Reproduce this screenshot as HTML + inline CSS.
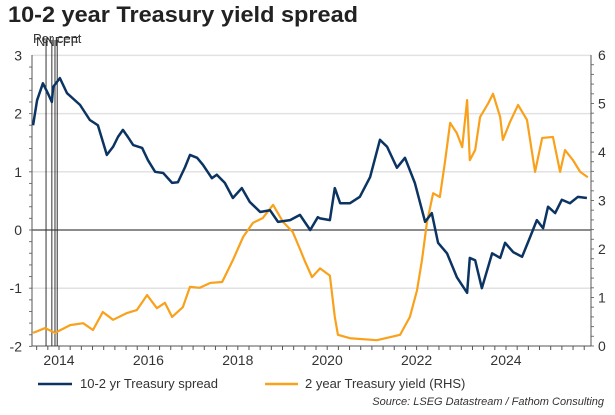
<!DOCTYPE html>
<html><head><meta charset="utf-8"><style>
body{margin:0;background:#fff;width:615px;height:410px;overflow:hidden;font-family:"Liberation Sans",sans-serif}
</style></head><body>
<svg width="615" height="410" xmlns="http://www.w3.org/2000/svg" font-family="Liberation Sans, sans-serif">
<text x="8" y="22" font-size="22" font-weight="bold" fill="#222" textLength="350" lengthAdjust="spacingAndGlyphs">10-2 year Treasury yield spread</text>
<g id="grid"></g><g id="axes"></g><g id="series"></g>
<text x="80" y="388" font-size="13" fill="#333">10-2 yr Treasury spread</text>
<line x1="38" y1="384" x2="72" y2="384" stroke="#0b3462" stroke-width="2.5"/>
<line x1="265" y1="384" x2="298" y2="384" stroke="#f9a11b" stroke-width="2.5"/>
<text x="305" y="388" font-size="13" fill="#333">2 year Treasury yield (RHS)</text>
<text x="604" y="405" font-size="11" font-style="italic" fill="#333" text-anchor="end">Source: LSEG Datastream / Fathom Consulting</text>
</svg>
<script>
const spreadDates=[2013.42,2013.51,2013.64,2013.75,2013.84,2013.87,2014.02,2014.18,2014.47,2014.69,2014.87,2015.07,2015.21,2015.32,2015.43,2015.54,2015.66,2015.86,2015.99,2016.15,2016.33,2016.53,2016.66,2016.82,2016.93,2017.09,2017.22,2017.42,2017.53,2017.71,2017.89,2018.09,2018.27,2018.50,2018.72,2018.90,2019.17,2019.39,2019.62,2019.79,2019.84,2020.06,2020.17,2020.29,2020.51,2020.73,2020.96,2021.18,2021.34,2021.56,2021.74,2021.96,2022.19,2022.34,2022.48,2022.68,2022.90,2023.13,2023.19,2023.31,2023.46,2023.69,2023.87,2023.98,2024.16,2024.36,2024.54,2024.69,2024.83,2024.94,2025.10,2025.25,2025.43,2025.61,2025.81];
const spreadValues=[1.80,2.23,2.52,2.35,2.20,2.46,2.61,2.35,2.15,1.89,1.80,1.29,1.43,1.60,1.72,1.60,1.46,1.41,1.20,1.00,0.98,0.81,0.82,1.08,1.29,1.24,1.12,0.89,0.95,0.81,0.55,0.72,0.48,0.31,0.34,0.14,0.17,0.26,0.00,0.22,0.20,0.17,0.72,0.46,0.46,0.57,0.91,1.55,1.43,1.07,1.24,0.81,0.14,0.29,-0.22,-0.40,-0.81,-1.08,-0.48,-0.52,-1.00,-0.40,-0.48,-0.22,-0.38,-0.46,-0.12,0.17,0.03,0.40,0.29,0.52,0.46,0.57,0.55];
const yieldDates=[2013.42,2013.69,2013.91,2014.25,2014.54,2014.76,2014.98,2015.21,2015.52,2015.74,2015.97,2016.19,2016.37,2016.53,2016.77,2016.93,2017.15,2017.38,2017.65,2017.89,2018.12,2018.34,2018.56,2018.79,2019.01,2019.23,2019.39,2019.50,2019.66,2019.84,2020.06,2020.17,2020.24,2020.51,2021.11,2021.63,2021.85,2022.01,2022.12,2022.23,2022.37,2022.52,2022.64,2022.75,2022.90,2023.02,2023.13,2023.19,2023.31,2023.42,2023.60,2023.71,2023.87,2023.93,2024.09,2024.27,2024.47,2024.65,2024.81,2025.05,2025.21,2025.32,2025.50,2025.66,2025.83];
const yieldValues=[0.27,0.37,0.27,0.43,0.47,0.33,0.70,0.54,0.68,0.74,1.05,0.78,0.89,0.60,0.80,1.22,1.20,1.30,1.32,1.77,2.25,2.54,2.64,2.91,2.56,2.35,2.00,1.75,1.42,1.60,1.45,0.60,0.23,0.16,0.12,0.23,0.60,1.15,1.77,2.54,3.15,3.07,3.83,4.60,4.39,4.10,5.07,3.83,4.04,4.72,5.00,5.20,4.72,4.25,4.62,4.97,4.66,3.59,4.29,4.31,3.59,4.04,3.83,3.59,3.48];
const leftTicks=[3,2,1,0,-1,-2];
const rightTicks=[6,5,4,3,2,1,0];
const yearTicks=[2014,2016,2018,2020,2022,2024];
const eventLines=[2013.71,2013.84,2013.91,2013.96];
const NS="http://www.w3.org/2000/svg";
const X0=32,X1=591;
const xS=d=>59+(d-2014)*44.7;
const yL=v=>230-v*58.2;
const yR=v=>346-v*48.5;
function mk(tag,attrs,parent,txt){const e=document.createElementNS(NS,tag);for(const k in attrs)e.setAttribute(k,attrs[k]);if(txt!=null)e.textContent=txt;document.getElementById(parent).appendChild(e);return e;}
leftTicks.forEach(t=>{
  if(t!==0&&t!==-2){const g=mk('line',{x1:X0,x2:X1,y1:yL(t),y2:yL(t),stroke:'#e2e2e2','stroke-width':1.5},'grid');
  
  }
  const l=mk('text',{x:22,y:yL(t)+5,'font-size':14,'text-anchor':'end',fill:'#333'},'axes',String(t));
  
  
});
rightTicks.forEach(t=>{
  const l=mk('text',{x:598,y:yR(t)+5,'font-size':14,fill:'#333'},'axes',String(t));
  
  
});
yearTicks.forEach(t=>{
  const l=mk('text',{x:xS(t),y:365,'font-size':14,'text-anchor':'middle',fill:'#333'},'axes',String(t));
  
  
});
for(let q=2013.5;q<=2025.9;q+=0.25){const tk=mk('line',{x1:xS(q),x2:xS(q),y1:346,y2:350,stroke:'#555'},'axes');

}
for(let v=-2;v<=3;v+=0.2){const tk=mk('line',{x1:X0-3,x2:X0,y1:yL(v),y2:yL(v),stroke:'#777'},'axes');

}
for(let v=0;v<=6;v+=0.2){const tk=mk('line',{x1:X1,x2:X1+3,y1:yR(v),y2:yR(v),stroke:'#777'},'axes');

}
let a=mk('line',{x1:X0,x2:X0,y1:55,y2:346,stroke:'#555'},'axes');


a=mk('line',{x1:X1,x2:X1,y1:55,y2:346,stroke:'#555'},'axes');


a=mk('line',{x1:X0,x2:X1,y1:346,y2:346,stroke:'#555'},'axes');


a=mk('line',{x1:X0,x2:X1,y1:yL(0),y2:yL(0),stroke:'#666','stroke-width':1.5},'axes');


eventLines.forEach(d=>{const e=mk('line',{x1:xS(d),x2:xS(d),y1:40,y2:346,stroke:'#333','stroke-width':1},'axes');

});
a=mk('text',{x:36,y:46,'font-size':13,fill:'#333'},'axes','NNFFF');


a=mk('text',{x:33,y:43,'font-size':13,fill:'#333'},'axes','Per cent');


let p=mk('polyline',{points:yieldDates.map((d,i)=>xS(d)+','+yR(yieldValues[i])).join(' '),fill:'none',stroke:'#f9a11b','stroke-width':2.2,'stroke-linejoin':'round'},'series');


p=mk('polyline',{points:spreadDates.map((d,i)=>xS(d)+','+yL(spreadValues[i])).join(' '),fill:'none',stroke:'#0b3462','stroke-width':2.5,'stroke-linejoin':'round'},'series');


</script>
</body></html>
